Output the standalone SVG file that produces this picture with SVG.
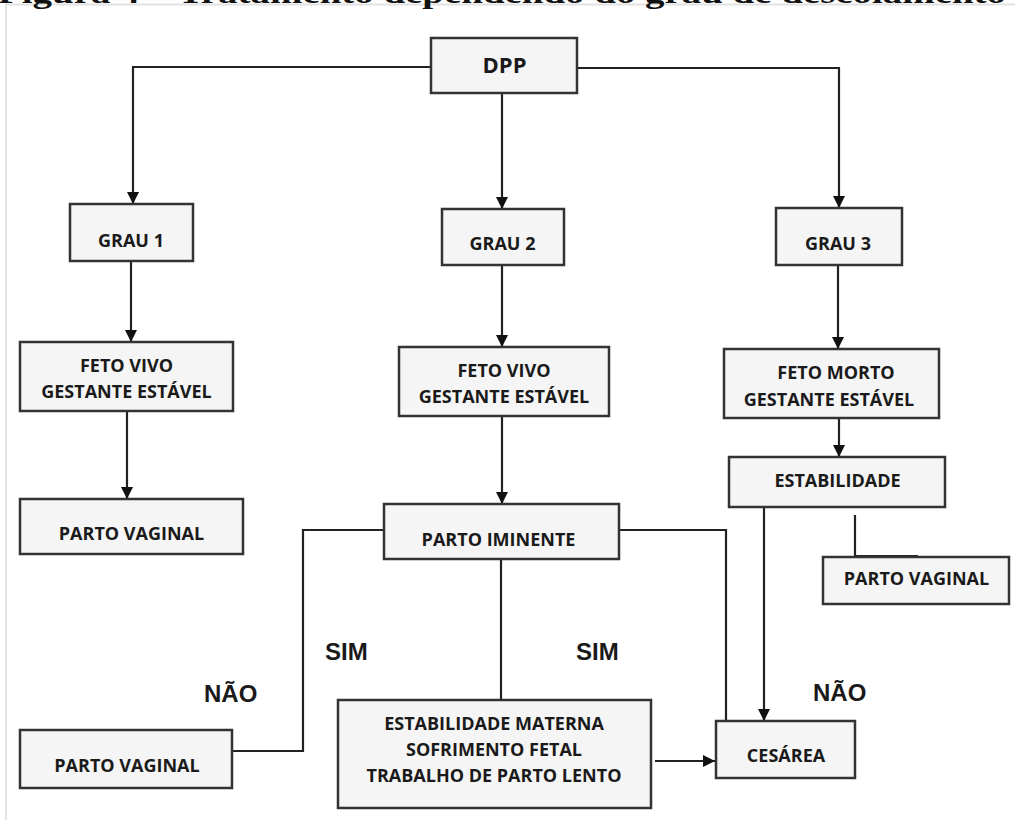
<svg xmlns="http://www.w3.org/2000/svg" width="1015" height="820" viewBox="0 0 1015 820">
<defs>
<style>
.box{fill:#f5f5f5;stroke:#333;stroke-width:2.5}
.t{font-family:"Open Sans","Liberation Sans",sans-serif;font-weight:700;font-size:18px;fill:#1a1a1a;text-anchor:middle}
.lbl{font-family:"Liberation Sans",Arial,sans-serif;font-weight:700;font-size:24px;fill:#1a1a1a}
.ln{fill:none;stroke:#222;stroke-width:2.2}
.ar{marker-end:url(#ah)}
</style>
<marker id="ah" markerUnits="userSpaceOnUse" markerWidth="12" markerHeight="12" viewBox="0 0 12 12" refX="12" refY="6" orient="auto">
<path d="M0,0 L12,6 L0,12 Z" fill="#111"/>
</marker>
</defs>
<rect width="1015" height="820" fill="#fff"/>
<path d="M6,820 V4.5 H1015" fill="none" stroke="#e2e2e2" stroke-width="2"/>
<text x="-2" y="3" font-family="'Liberation Serif','Times New Roman',serif" font-weight="700" font-size="30" textLength="1008" lengthAdjust="spacingAndGlyphs" fill="#111">Figura 4 – Tratamento dependendo do grau de descolamento</text>

<g id="connectors">
<path class="ln ar" d="M431,67 H133 V204"/>
<path class="ln ar" d="M577,68 H839 V208"/>
<path class="ln ar" d="M502,93 V209"/>
<path class="ln ar" d="M131,261 V342"/>
<path class="ln ar" d="M502,265 V347"/>
<path class="ln ar" d="M838,265 V349"/>
<path class="ln ar" d="M127,411 V499"/>
<path class="ln ar" d="M502,416 V504"/>
<path class="ln ar" d="M839,418 V457"/>
<path class="ln" d="M384,530 H303 V751 H232"/>
<path class="ln" d="M619,530 H726 V721"/>
<path class="ln" d="M501,559 V700"/>
<path class="ln ar" d="M764,507 V721"/>
<path class="ln ar" d="M655,761 H715"/>
<path class="ln" d="M855,515 V556 H918"/>
</g>

<g id="n-dpp"><rect class="box" x="431" y="38" width="146" height="55"/><text class="t" x="504.5" y="73" style="font-size:22px">DPP</text></g>
<g id="n-grau1"><rect class="box" x="70" y="204" width="123" height="57"/><text class="t" x="131" y="247">GRAU 1</text></g>
<g id="n-grau2"><rect class="box" x="442" y="209" width="122" height="56"/><text class="t" x="502.5" y="250">GRAU 2</text></g>
<g id="n-grau3"><rect class="box" x="776" y="208" width="126" height="57"/><text class="t" x="838" y="250">GRAU 3</text></g>
<g id="n-feto1"><rect class="box" x="20" y="342" width="213" height="69"/><text class="t" x="126.5" y="372">FETO VIVO</text><text class="t" x="126.5" y="398">GESTANTE ESTÁVEL</text></g>
<g id="n-feto2"><rect class="box" x="399" y="347" width="210" height="69"/><text class="t" x="504" y="377">FETO VIVO</text><text class="t" x="504" y="403">GESTANTE ESTÁVEL</text></g>
<g id="n-feto3"><rect class="box" x="724" y="349" width="215" height="69"/><text class="t" x="836" y="379">FETO MORTO</text><text class="t" x="829" y="406">GESTANTE ESTÁVEL</text></g>
<g id="n-pv1"><rect class="box" x="20" y="499" width="223" height="55"/><text class="t" x="131.5" y="540">PARTO VAGINAL</text></g>
<g id="n-estab"><rect class="box" x="729" y="457" width="216" height="50"/><text class="t" x="837.5" y="487">ESTABILIDADE</text></g>
<g id="n-iminente"><rect class="box" x="384" y="504" width="235" height="55"/><text class="t" x="498.5" y="546">PARTO IMINENTE</text></g>
<g id="n-pv3"><rect class="box" x="823" y="557" width="186" height="47"/><text class="t" x="916.5" y="585">PARTO VAGINAL</text></g>
<g id="n-pv2"><rect class="box" x="20" y="730" width="212" height="58"/><text class="t" x="127" y="772">PARTO VAGINAL</text></g>
<g id="n-materna"><rect class="box" x="338" y="700" width="313" height="108"/><text class="t" x="494" y="730">ESTABILIDADE MATERNA</text><text class="t" x="494" y="756">SOFRIMENTO FETAL</text><text class="t" x="494" y="782">TRABALHO DE PARTO LENTO</text></g>
<g id="n-cesarea"><rect class="box" x="716" y="721" width="139" height="57"/><text class="t" x="786" y="762">CESÁREA</text></g>

<g id="labels">
<text class="lbl" x="325" y="660">SIM</text>
<text class="lbl" x="204" y="702">NÃO</text>
<text class="lbl" x="576" y="660">SIM</text>
<text class="lbl" x="813" y="701">NÃO</text>
</g>
</svg>
